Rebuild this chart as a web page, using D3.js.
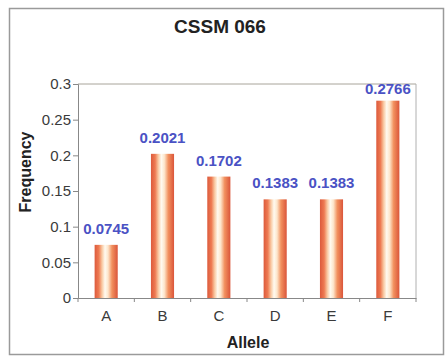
<!DOCTYPE html>
<html>
<head>
<meta charset="utf-8">
<script src="https://cdn.jsdelivr.net/npm/d3@7"></script>
<style>
  body { margin: 0; background: #fff; }
  text { font-family: Arial, "Liberation Sans", sans-serif; }
</style>
</head>
<body>
<svg id="chart" width="448" height="358"></svg>
<script>
const alleles = ['A', 'B', 'C', 'D', 'E', 'F'];
const frequencies = [0.0745, 0.2021, 0.1702, 0.1383, 0.1383, 0.2766];
const yTicks = [0, 0.05, 0.1, 0.15, 0.2, 0.25, 0.3];

const FONT = 'Arial, "Liberation Sans", sans-serif';
const svg = d3.select('#chart');
const margin = { left: 78, top: 84, right: 416, bottom: 298 };

// Outer frame
svg.append('rect')
    .attr('x', 9.5).attr('y', 8.5)
    .attr('width', 434).attr('height', 346)
    .attr('fill', '#fff')
    .attr('stroke', '#9a9a9a')
    .attr('stroke-width', 1.5);

// Cylinder-like gradient for bars
const grad = svg.append('defs').append('linearGradient')
    .attr('id', 'barGrad')
    .attr('x1', '0%').attr('x2', '100%');
[
    ['0%', '#dc5a3c'], ['18%', '#ee7a52'], ['32%', '#f9c9a2'],
    ['45%', '#fffaf0'], ['58%', '#fde6cc'], ['75%', '#f2915f'],
    ['100%', '#da553a']
].forEach(([o, c]) => grad.append('stop').attr('offset', o).attr('stop-color', c));

const x = d3.scaleBand()
    .domain(alleles)
    .range([margin.left, margin.right])
    .paddingInner(0.59)
    .paddingOuter(0.295);

const y = d3.scaleLinear()
    .domain([0, 0.3])
    .range([margin.bottom, margin.top]);

// Plot area border
svg.append('line')
    .attr('x1', margin.left).attr('x2', margin.right)
    .attr('y1', y(0.3)).attr('y2', y(0.3))
    .attr('stroke', '#a8a49a');
svg.append('line')
    .attr('x1', margin.right).attr('x2', margin.right)
    .attr('y1', y(0.3)).attr('y2', y(0))
    .attr('stroke', '#b0b0b0');

// Bars
svg.selectAll('.bar')
    .data(frequencies)
    .enter()
    .append('rect')
    .attr('class', 'bar')
    .attr('x', (d, i) => x(alleles[i]))
    .attr('y', (d) => y(d))
    .attr('width', x.bandwidth())
    .attr('height', (d) => y(0) - y(d))
    .attr('fill', 'url(#barGrad)');

// Value labels (kept inside the plot area at the top)
svg.selectAll('.val')
    .data(frequencies)
    .enter()
    .append('text')
    .attr('class', 'val')
    .attr('x', (d, i) => x(alleles[i]) + x.bandwidth() / 2)
    .attr('y', (d) => Math.max(y(d) - 11, margin.top + 10))
    .attr('text-anchor', 'middle')
    .attr('font-size', 15)
    .attr('font-weight', 'bold')
    .attr('fill', '#4a52c4')
    .text((d) => d.toFixed(4));

// Y axis
const yAxis = svg.append('g')
    .attr('transform', `translate(${margin.left},0)`)
    .call(d3.axisLeft(y).tickValues(yTicks).tickSize(5).tickPadding(2)
        .tickFormat((d) => d3.format('')(+d.toFixed(2))));
yAxis.select('.domain').attr('stroke', '#888');
yAxis.selectAll('.tick line').attr('stroke', '#888');
yAxis.selectAll('.tick text')
    .attr('font-size', 15)
    .attr('fill', '#3a3a3a')
    .attr('font-family', FONT);

// X axis
const xAxis = svg.append('g')
    .attr('transform', `translate(0,${margin.bottom})`)
    .call(d3.axisBottom(x).tickSize(0).tickPadding(12));
xAxis.select('.domain').attr('stroke', '#888');
xAxis.selectAll('.tick text')
    .attr('font-size', 15)
    .attr('fill', '#3a3a3a')
    .attr('font-family', FONT);
// Tick marks between categories
const step = x.step();
xAxis.selectAll('.sep')
    .data(d3.range(alleles.length + 1))
    .enter()
    .append('line')
    .attr('x1', (d) => margin.left + d * step)
    .attr('x2', (d) => margin.left + d * step)
    .attr('y1', 0).attr('y2', 4)
    .attr('stroke', '#888');

// Title and axis labels
svg.append('text')
    .attr('x', 220).attr('y', 33)
    .attr('text-anchor', 'middle')
    .attr('font-size', 19)
    .attr('font-weight', 'bold')
    .attr('fill', '#222')
    .text('CSSM 066');

svg.append('text')
    .attr('x', 248).attr('y', 348)
    .attr('text-anchor', 'middle')
    .attr('font-size', 16)
    .attr('font-weight', 'bold')
    .attr('fill', '#222')
    .text('Allele');

svg.append('text')
    .attr('transform', 'translate(31,172)rotate(-90)')
    .attr('text-anchor', 'middle')
    .attr('font-size', 16)
    .attr('font-weight', 'bold')
    .attr('fill', '#222')
    .text('Frequency');
</script>
</body>
</html>
